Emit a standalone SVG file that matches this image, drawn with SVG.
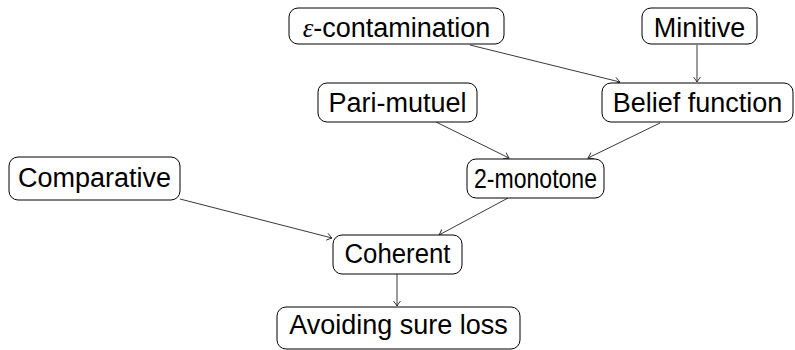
<svg xmlns="http://www.w3.org/2000/svg" width="795" height="350" viewBox="0 0 795 350">
<defs>
<style>
.box{fill:#fff;stroke:#000;stroke-width:1}
.lbl{font-family:"Liberation Sans","DejaVu Sans",sans-serif;font-size:27px;fill:#000;text-anchor:middle}
.edge{stroke:#222;stroke-width:0.9;fill:none;marker-end:url(#arr)}
</style>
<marker id="arr" viewBox="-6 -4 7 8" markerWidth="7" markerHeight="8" refX="0" refY="0" orient="auto" markerUnits="userSpaceOnUse">
<path d="M-5,-3.5 Q-1.5,-0.8 0,0 Q-1.5,0.8 -5,3.5" fill="none" stroke="#222" stroke-width="0.9"/>
</marker>
</defs>
<rect width="795" height="350" fill="#fff"/>
<g id="connectors">
<line class="edge" x1="470" y1="45" x2="620" y2="82"/>
<line class="edge" x1="697" y1="45" x2="697" y2="82"/>
<line class="edge" x1="436" y1="122" x2="509" y2="158"/>
<line class="edge" x1="660" y1="123" x2="588" y2="158"/>
<line class="edge" x1="180" y1="199" x2="332" y2="238"/>
<line class="edge" x1="508" y1="198" x2="439" y2="235"/>
<line class="edge" x1="397" y1="274" x2="397" y2="306"/>
</g>
<g id="n-eps">
<rect class="box" x="289" y="8" width="215" height="36" rx="9"/>
<text class="lbl" x="396.5" y="37"><tspan font-family="Liberation Serif,serif" font-style="italic">ε</tspan>-contamination</text>
</g>
<g id="n-minitive">
<rect class="box" x="642" y="8" width="115" height="36" rx="9"/>
<text class="lbl" x="699.5" y="37">Minitive</text>
</g>
<g id="n-belief">
<rect class="box" x="602" y="83" width="191" height="39" rx="9"/>
<text class="lbl" x="697.5" y="112">Belief function</text>
</g>
<g id="n-pari">
<rect class="box" x="318" y="83" width="159" height="39" rx="9"/>
<text class="lbl" x="397.5" y="112">Pari-mutuel</text>
</g>
<g id="n-2mono">
<rect class="box" x="467" y="159" width="137" height="39" rx="9"/>
<text class="lbl" x="535.5" y="188" font-size="26" textLength="123" lengthAdjust="spacingAndGlyphs">2-monotone</text>
</g>
<g id="n-comparative">
<rect class="box" x="9" y="157" width="171" height="43" rx="9"/>
<text class="lbl" x="94.5" y="187">Comparative</text>
</g>
<g id="n-coherent">
<rect class="box" x="333" y="235" width="129" height="39" rx="9"/>
<text class="lbl" x="397.5" y="263" textLength="106" lengthAdjust="spacingAndGlyphs">Coherent</text>
</g>
<g id="n-asl">
<rect class="box" x="277" y="307" width="243" height="42" rx="9"/>
<text class="lbl" x="398.5" y="334">Avoiding sure loss</text>
</g>
</svg>
